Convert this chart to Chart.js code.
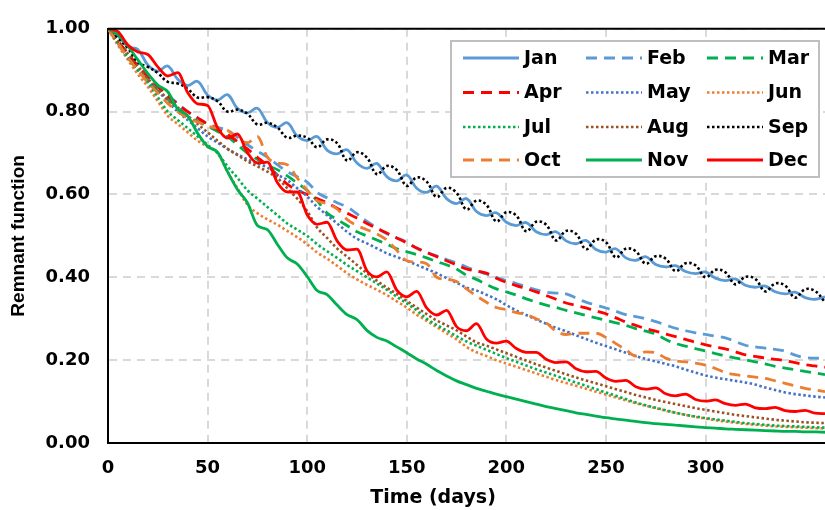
<!DOCTYPE html>
<html>
<head>
<meta charset="utf-8">
<script src="https://cdn.jsdelivr.net/npm/chart.js@4.4.1/dist/chart.umd.min.js"></script>
<style>
  body { margin: 0; background: #fff; overflow: hidden; }
</style>
</head>
<body>
<canvas id="myChart" width="825" height="510"></canvas>
<script>
let days = [0,5,10,15,20,25,30,35,40,45,50,55,60,65,70,75,80,85,90,95,100,105,110,115,120,125,130,135,140,145,150,155,160,165,170,175,180,185,190,195,200,205,210,215,220,225,230,235,240,245,250,255,260,265,270,275,280,285,290,295,300,305,310,315,320,325,330,335,340,345,350,355,360];

let jan = [1.000,0.983,0.957,0.950,0.913,0.898,0.910,0.878,0.863,0.873,0.840,0.828,0.841,0.808,0.797,0.808,0.774,0.762,0.773,0.741,0.730,0.740,0.707,0.698,0.708,0.676,0.663,0.675,0.643,0.633,0.647,0.615,0.605,0.620,0.590,0.578,0.590,0.559,0.549,0.556,0.533,0.525,0.532,0.510,0.503,0.510,0.488,0.481,0.489,0.467,0.461,0.469,0.447,0.441,0.450,0.431,0.425,0.428,0.414,0.409,0.413,0.398,0.392,0.396,0.381,0.376,0.379,0.365,0.360,0.364,0.351,0.347,0.353];
let feb = [1.000,0.970,0.940,0.910,0.885,0.860,0.840,0.820,0.800,0.785,0.770,0.762,0.755,0.738,0.720,0.705,0.690,0.672,0.655,0.643,0.630,0.605,0.592,0.580,0.570,0.553,0.535,0.520,0.505,0.495,0.485,0.470,0.460,0.452,0.443,0.435,0.425,0.416,0.408,0.400,0.392,0.385,0.377,0.370,0.364,0.362,0.360,0.350,0.340,0.333,0.326,0.318,0.310,0.305,0.300,0.293,0.285,0.277,0.271,0.266,0.262,0.258,0.254,0.245,0.236,0.232,0.229,0.226,0.222,0.212,0.206,0.205,0.204];
let mar = [1.000,0.965,0.930,0.900,0.875,0.850,0.830,0.810,0.790,0.777,0.765,0.752,0.740,0.720,0.700,0.685,0.670,0.660,0.645,0.628,0.610,0.585,0.555,0.540,0.525,0.510,0.500,0.490,0.480,0.469,0.462,0.455,0.447,0.438,0.430,0.420,0.405,0.395,0.383,0.372,0.365,0.357,0.348,0.340,0.333,0.327,0.320,0.314,0.308,0.302,0.296,0.290,0.284,0.276,0.270,0.263,0.250,0.240,0.234,0.228,0.222,0.216,0.210,0.205,0.201,0.196,0.191,0.185,0.181,0.177,0.173,0.169,0.165];
let apr = [1.000,0.970,0.940,0.910,0.885,0.860,0.838,0.818,0.800,0.785,0.770,0.757,0.745,0.728,0.710,0.690,0.670,0.647,0.625,0.610,0.600,0.590,0.580,0.567,0.555,0.543,0.530,0.518,0.507,0.495,0.483,0.471,0.460,0.450,0.440,0.430,0.420,0.415,0.410,0.398,0.388,0.380,0.373,0.365,0.356,0.347,0.338,0.332,0.326,0.319,0.312,0.302,0.292,0.284,0.276,0.270,0.263,0.257,0.250,0.243,0.237,0.232,0.227,0.220,0.213,0.209,0.205,0.202,0.199,0.194,0.189,0.186,0.183];
let may = [1.000,0.965,0.930,0.900,0.875,0.850,0.825,0.800,0.780,0.760,0.740,0.725,0.710,0.697,0.685,0.675,0.665,0.648,0.635,0.615,0.595,0.570,0.550,0.530,0.510,0.493,0.482,0.470,0.458,0.449,0.440,0.430,0.420,0.410,0.398,0.387,0.375,0.368,0.358,0.347,0.333,0.320,0.309,0.298,0.288,0.278,0.270,0.260,0.251,0.242,0.234,0.226,0.218,0.210,0.203,0.197,0.191,0.185,0.177,0.170,0.163,0.158,0.154,0.150,0.146,0.141,0.134,0.128,0.122,0.118,0.115,0.112,0.110];
let jun = [1.000,0.960,0.925,0.890,0.860,0.825,0.790,0.770,0.750,0.730,0.715,0.700,0.655,0.615,0.575,0.555,0.540,0.527,0.512,0.497,0.480,0.460,0.445,0.428,0.410,0.395,0.382,0.370,0.357,0.342,0.327,0.310,0.295,0.280,0.265,0.250,0.232,0.219,0.210,0.200,0.192,0.184,0.176,0.168,0.160,0.152,0.145,0.138,0.131,0.124,0.117,0.110,0.103,0.096,0.090,0.084,0.078,0.073,0.068,0.063,0.059,0.055,0.052,0.049,0.046,0.044,0.042,0.040,0.039,0.038,0.037,0.036,0.035];
let jul = [1.000,0.965,0.930,0.900,0.870,0.835,0.800,0.780,0.760,0.740,0.720,0.700,0.668,0.640,0.610,0.590,0.570,0.550,0.530,0.515,0.500,0.480,0.463,0.447,0.430,0.415,0.400,0.385,0.370,0.353,0.337,0.320,0.300,0.285,0.272,0.258,0.245,0.235,0.225,0.215,0.205,0.196,0.187,0.178,0.170,0.162,0.154,0.146,0.138,0.130,0.122,0.114,0.106,0.098,0.091,0.085,0.079,0.073,0.068,0.064,0.060,0.057,0.054,0.051,0.048,0.046,0.044,0.042,0.041,0.040,0.039,0.038,0.037];
let aug = [1.000,0.970,0.940,0.910,0.880,0.855,0.830,0.810,0.790,0.770,0.750,0.730,0.710,0.695,0.680,0.668,0.655,0.640,0.615,0.590,0.560,0.520,0.495,0.470,0.450,0.430,0.410,0.392,0.375,0.360,0.343,0.327,0.311,0.296,0.284,0.272,0.257,0.243,0.235,0.226,0.217,0.208,0.199,0.190,0.182,0.174,0.166,0.158,0.151,0.144,0.137,0.130,0.123,0.116,0.110,0.104,0.099,0.094,0.089,0.084,0.080,0.076,0.072,0.068,0.065,0.062,0.059,0.056,0.054,0.052,0.050,0.049,0.048];
let sep = [1.000,0.978,0.953,0.919,0.908,0.893,0.872,0.868,0.855,0.834,0.835,0.825,0.800,0.805,0.795,0.769,0.773,0.762,0.737,0.742,0.737,0.714,0.733,0.724,0.682,0.702,0.689,0.649,0.669,0.659,0.621,0.641,0.631,0.594,0.616,0.604,0.564,0.585,0.575,0.535,0.557,0.549,0.511,0.534,0.527,0.489,0.512,0.505,0.468,0.491,0.485,0.448,0.469,0.463,0.433,0.451,0.445,0.415,0.434,0.429,0.400,0.418,0.412,0.383,0.401,0.396,0.366,0.385,0.380,0.351,0.371,0.367,0.340];
let oct = [1.000,0.965,0.930,0.900,0.870,0.845,0.820,0.800,0.785,0.775,0.765,0.760,0.755,0.735,0.725,0.740,0.690,0.676,0.672,0.640,0.610,0.585,0.578,0.565,0.540,0.525,0.515,0.505,0.490,0.465,0.440,0.437,0.433,0.400,0.395,0.390,0.372,0.355,0.340,0.327,0.322,0.315,0.310,0.300,0.290,0.270,0.262,0.265,0.265,0.265,0.255,0.240,0.225,0.210,0.220,0.218,0.205,0.198,0.196,0.193,0.188,0.180,0.170,0.165,0.162,0.159,0.156,0.150,0.144,0.138,0.132,0.128,0.124];
let nov = [1.000,0.985,0.958,0.925,0.892,0.864,0.848,0.806,0.790,0.748,0.716,0.702,0.655,0.612,0.580,0.525,0.515,0.480,0.447,0.432,0.402,0.368,0.358,0.333,0.310,0.298,0.272,0.255,0.246,0.232,0.218,0.203,0.190,0.175,0.162,0.150,0.141,0.132,0.125,0.118,0.112,0.106,0.100,0.094,0.088,0.083,0.078,0.073,0.069,0.065,0.061,0.058,0.055,0.052,0.049,0.047,0.045,0.043,0.041,0.039,0.037,0.036,0.034,0.033,0.032,0.031,0.030,0.029,0.028,0.028,0.027,0.027,0.026];
let dec = [1.000,0.993,0.961,0.944,0.938,0.908,0.886,0.894,0.846,0.819,0.815,0.761,0.736,0.746,0.701,0.676,0.678,0.629,0.606,0.606,0.551,0.528,0.533,0.488,0.466,0.468,0.416,0.401,0.413,0.369,0.353,0.366,0.326,0.309,0.320,0.281,0.271,0.288,0.251,0.241,0.246,0.228,0.219,0.219,0.202,0.194,0.196,0.179,0.172,0.173,0.157,0.149,0.151,0.136,0.130,0.133,0.119,0.114,0.118,0.105,0.101,0.104,0.095,0.091,0.094,0.085,0.083,0.086,0.078,0.076,0.079,0.072,0.071];

let months = ['Jan','Feb','Mar','Apr','May','Jun','Jul','Aug','Sep','Oct','Nov','Dec'];
let series = [jan, feb, mar, apr, may, jun, jul, aug, sep, oct, nov, dec];
let colors = ['#5B9BD5','#5B9BD5','#00B050','#FF0000','#4472C4','#ED7D31','#00B050','#9C5221','#000000','#ED7D31','#00B050','#FF0000'];
let dashes = ['solid','dash','dash','dash','dot','dot','dot','dot','dot','dash','solid','solid'];
// smooth sine-like waves for Jan/Feb/Sep, step-like waves for the others
let smoothWave = [true, true, false, false, false, false, false, false, true, false, false, false];
let yTicks = [0, 0.2, 0.4, 0.6, 0.8, 1.0];

const dashPattern = { solid: [], dash: [11, 7], dot: [2.5, 2.5] };
const boldFont = 'DejaVu Sans';

let datasets = series.map((vals, i) => ({
    label: months[i],
    data: days.map((d, k) => ({ x: d, y: vals[k] })),
    borderColor: colors[i],
    backgroundColor: colors[i],
    borderWidth: dashes[i] === 'dot' ? 2.6 : 2.8,
    borderDash: dashPattern[dashes[i]],
    pointRadius: 0,
    tension: smoothWave[i] ? 0.4 : 0,
    cubicInterpolationMode: smoothWave[i] ? 'default' : 'monotone',
    fill: false,
    order: 11 - i
}));

// legend drawn inside the plot, 3 columns x 4 rows, like the original
const boxLegend = {
    id: 'boxLegend',
    afterDraw(chart) {
        const ctx = chart.ctx;
        const area = chart.chartArea;
        ctx.save();
        // top frame of the plot area
        ctx.strokeStyle = '#000';
        ctx.lineWidth = 2;
        ctx.setLineDash([]);
        ctx.beginPath();
        ctx.moveTo(area.left, area.top);
        ctx.lineTo(area.right, area.top);
        ctx.stroke();

        ctx.fillStyle = '#fff';
        ctx.fillRect(451, 41, 368, 136);
        ctx.strokeStyle = '#BFBFBF';
        ctx.lineWidth = 2;
        ctx.strokeRect(451, 41, 368, 136);

        const colX = [463, 586, 707];
        const rowY = [58, 92.5, 127, 160];
        ctx.font = 'bold 19px "' + boldFont + '"';
        ctx.textBaseline = 'middle';
        ctx.textAlign = 'left';
        chart.data.datasets.forEach((ds, i) => {
            const c = i % 3, r = Math.floor(i / 3);
            const x = colX[c], y = rowY[r];
            ctx.strokeStyle = ds.borderColor;
            ctx.lineWidth = ds.borderWidth;
            ctx.setLineDash(ds.borderDash);
            ctx.beginPath();
            ctx.moveTo(x, y);
            ctx.lineTo(x + 56, y);
            ctx.stroke();
            ctx.setLineDash([]);
            ctx.fillStyle = '#000';
            ctx.fillText(ds.label, x + 61, y + 1);
        });

        // x axis title, placed as in the original
        ctx.font = 'bold 19px "' + boldFont + '"';
        ctx.textAlign = 'center';
        ctx.fillText('Time (days)', 433, 498);
        ctx.restore();
    }
};

let myChart = new Chart(document.getElementById('myChart').getContext('2d'), {
    type: 'line',
    data: { datasets: datasets },
    options: {
        responsive: false,
        animation: false,
        layout: { padding: { top: 27, right: 0, bottom: 0, left: 0 } },
        plugins: {
            legend: { display: false },
            tooltip: { enabled: false }
        },
        scales: {
            x: {
                type: 'linear',
                min: 0,
                max: 360,
                afterBuildTicks: (scale) => {
                    scale.ticks = scale.ticks.filter(t => t.value % 50 === 0);
                },
                afterFit: (scale) => { scale.height = 67; },
                ticks: {
                    stepSize: 50,
                    color: '#000',
                    padding: 15,
                    maxRotation: 0,
                    font: { family: boldFont, weight: 'bold', size: 18 }
                },
                grid: { color: '#D9D9D9', lineWidth: 2, drawTicks: false },
                border: { color: '#000', width: 2, dash: [8, 6] }
            },
            y: {
                min: 0,
                max: 1,
                afterBuildTicks: (scale) => {
                    scale.ticks = yTicks.map(v => ({ value: v }));
                },
                afterFit: (scale) => { scale.width = 108; },
                ticks: {
                    color: '#000',
                    padding: 18,
                    callback: (v) => Number(v).toFixed(2),
                    font: { family: boldFont, weight: 'bold', size: 18 }
                },
                grid: { color: '#D9D9D9', lineWidth: 2, drawTicks: false },
                border: { color: '#000', width: 2, dash: [8, 6] },
                title: {
                    display: true,
                    text: 'Remnant function',
                    color: '#000',
                    padding: { top: 7, bottom: 4 },
                    font: { family: 'Liberation Sans', weight: 'bold', size: 19 }
                }
            }
        }
    },
    plugins: [boxLegend]
});
</script>
</body>
</html>
